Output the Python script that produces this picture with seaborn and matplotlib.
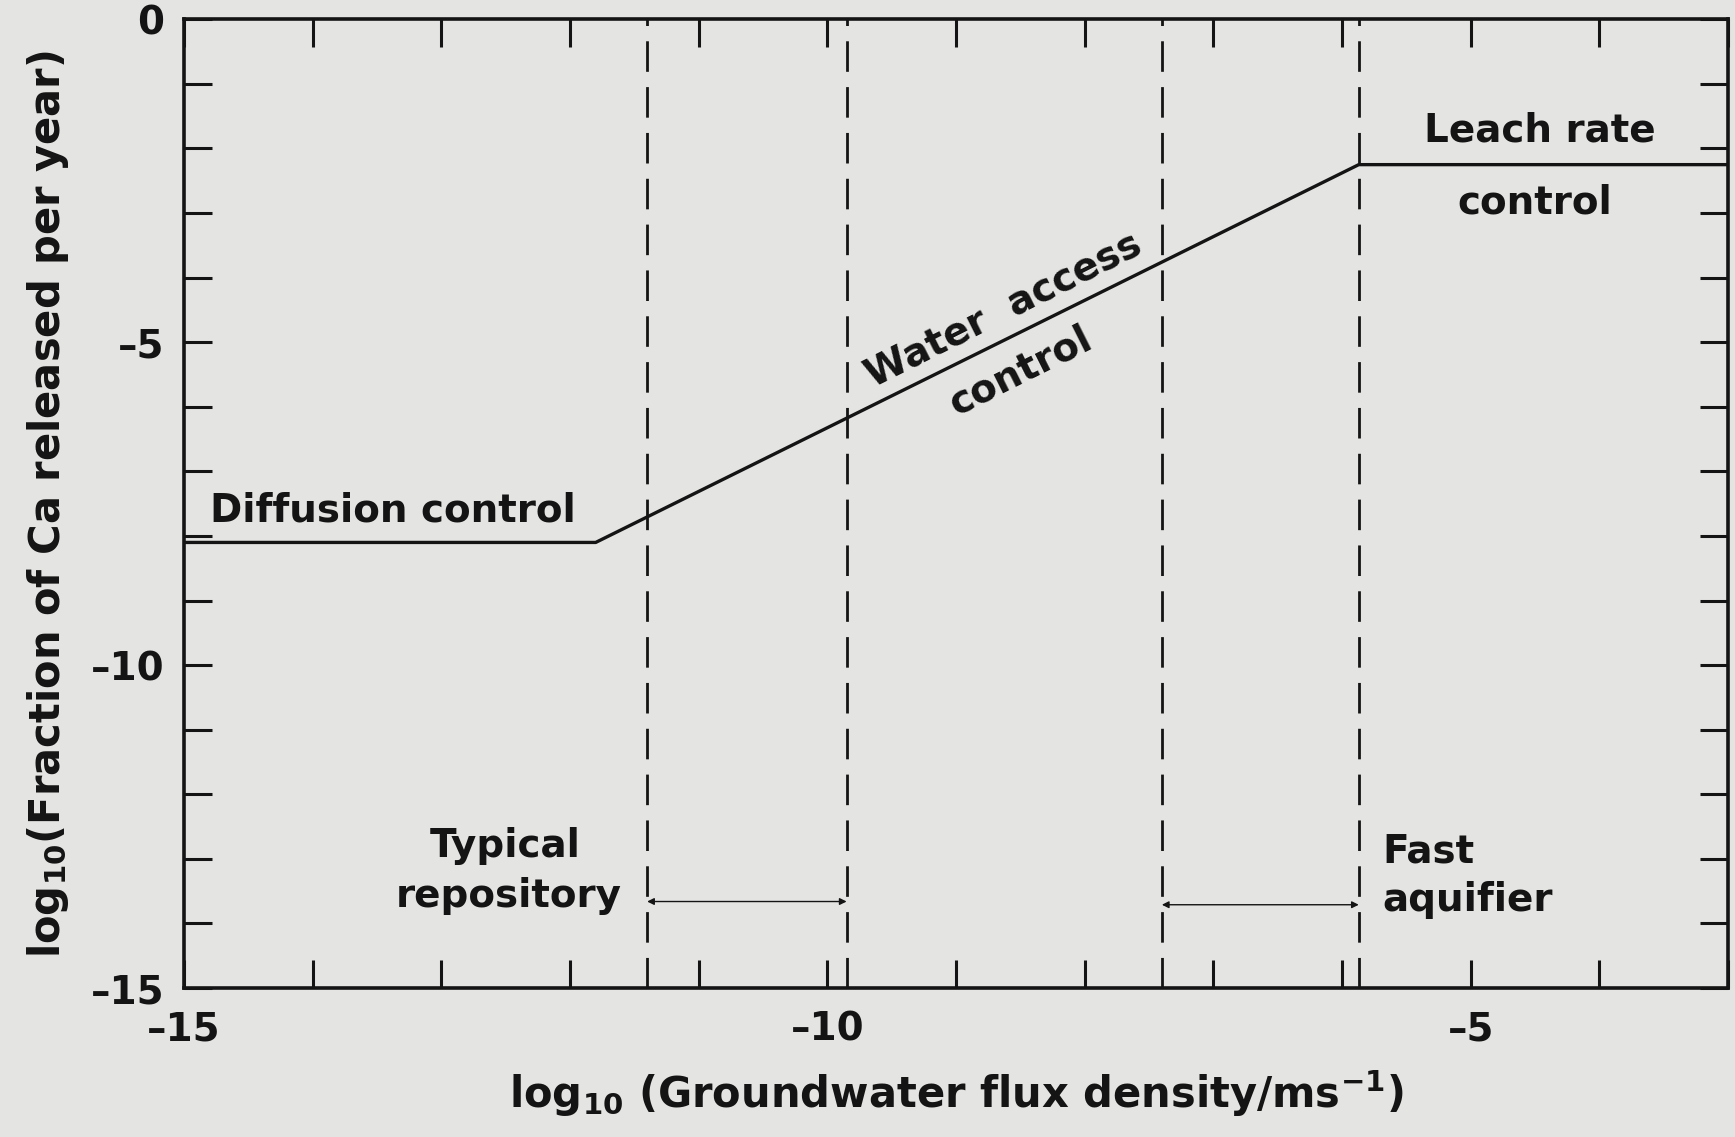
import matplotlib

matplotlib.use("Agg")
import matplotlib.pyplot as plt
import pandas as pd
import seaborn as sns
from matplotlib.ticker import FuncFormatter, MultipleLocator

# Release-rate curve (log10 units)
flux = [-15.0, -11.8, -5.87, -3.0]
release = [-8.1, -8.1, -2.25, -2.25]

# Vertical dashed boundaries of the two flux ranges
repository_range = [-11.4, -9.85]
aquifer_range = [-7.4, -5.87]

curve = pd.DataFrame({"flux": flux, "release": release})

sns.set_theme(style="ticks")
plt.rcParams["font.family"] = ["DejaVu Sans"]
plt.rcParams["font.weight"] = "bold"
plt.rcParams["mathtext.default"] = "regular"

bg = "#e4e4e2"
ink = "#141414"

fig = plt.figure(figsize=(17.35, 11.37), dpi=100, facecolor=bg)
ax = fig.add_axes([0.106, 0.131, 0.89, 0.852], facecolor=bg)

sns.lineplot(data=curve, x="flux", y="release", color=ink, linewidth=2.4, ax=ax)

for xv in repository_range + aquifer_range:
    ax.axvline(xv, color=ink, linewidth=2.0, dashes=(11, 5.5))

# range arrows
for (x0, x1), yv in [(repository_range, -13.66), (aquifer_range, -13.71)]:
    ax.annotate(
        "",
        xy=(x0, yv),
        xytext=(x1, yv),
        arrowprops=dict(arrowstyle="<|-|>", color=ink, lw=1.0, mutation_scale=10,
                        shrinkA=0, shrinkB=0),
    )

fs = 28
ax.text(-14.8, -7.6, "Diffusion control", fontsize=fs, fontweight="bold",
        color=ink, ha="left", va="center")
ax.text(-8.63, -4.5, "Water  access", fontsize=fs, fontweight="bold",
        color=ink, ha="center", va="center", rotation=26.6, rotation_mode="anchor")
ax.text(-8.5, -5.45, "control", fontsize=fs, fontweight="bold",
        color=ink, ha="center", va="center", rotation=26.6, rotation_mode="anchor")
ax.text(-4.46, -1.72, "Leach rate", fontsize=fs, fontweight="bold",
        color=ink, ha="center", va="center")
ax.text(-4.5, -2.84, "control", fontsize=fs, fontweight="bold",
        color=ink, ha="center", va="center")
ax.text(-12.5, -12.8, "Typical", fontsize=fs, fontweight="bold",
        color=ink, ha="center", va="center")
ax.text(-11.6, -13.57, "repository", fontsize=fs, fontweight="bold",
        color=ink, ha="right", va="center")
ax.text(-5.69, -12.89, "Fast", fontsize=fs, fontweight="bold",
        color=ink, ha="left", va="center")
ax.text(-5.69, -13.63, "aquifier", fontsize=fs, fontweight="bold",
        color=ink, ha="left", va="center")


def dash_label(v, pos):
    n = int(round(v))
    if n == -3:
        return ""
    return f"\u2013{abs(n)}" if n < 0 else f"{n}"


ax.set_xlim(-15, -3)
ax.set_ylim(-15, 0)
ax.xaxis.set_major_locator(MultipleLocator(5))
ax.xaxis.set_minor_locator(MultipleLocator(1))
ax.yaxis.set_major_locator(MultipleLocator(5))
ax.yaxis.set_minor_locator(MultipleLocator(1))
ax.xaxis.set_major_formatter(FuncFormatter(dash_label))
ax.yaxis.set_major_formatter(FuncFormatter(dash_label))

ax.tick_params(which="both", direction="in", length=20, width=2.2, color=ink,
               top=True, right=True, labelsize=28, labelcolor=ink)
ax.tick_params(axis="x", pad=16)
ax.tick_params(axis="y", pad=14)
for lab in ax.get_xticklabels() + ax.get_yticklabels():
    lab.set_fontweight("bold")
for sp in ax.spines.values():
    sp.set_visible(True)
    sp.set_linewidth(2.6)
    sp.set_color(ink)

ax.set_xlabel("log$_{10}$ (Groundwater flux density/ms$^{-1}$)", fontsize=30,
              fontweight="bold", color=ink, labelpad=14)
ax.set_ylabel("log$_{10}$(Fraction of Ca released per year)", fontsize=30,
              fontweight="bold", color=ink, labelpad=14)

fig.savefig("out.png", dpi=100, facecolor=bg)
